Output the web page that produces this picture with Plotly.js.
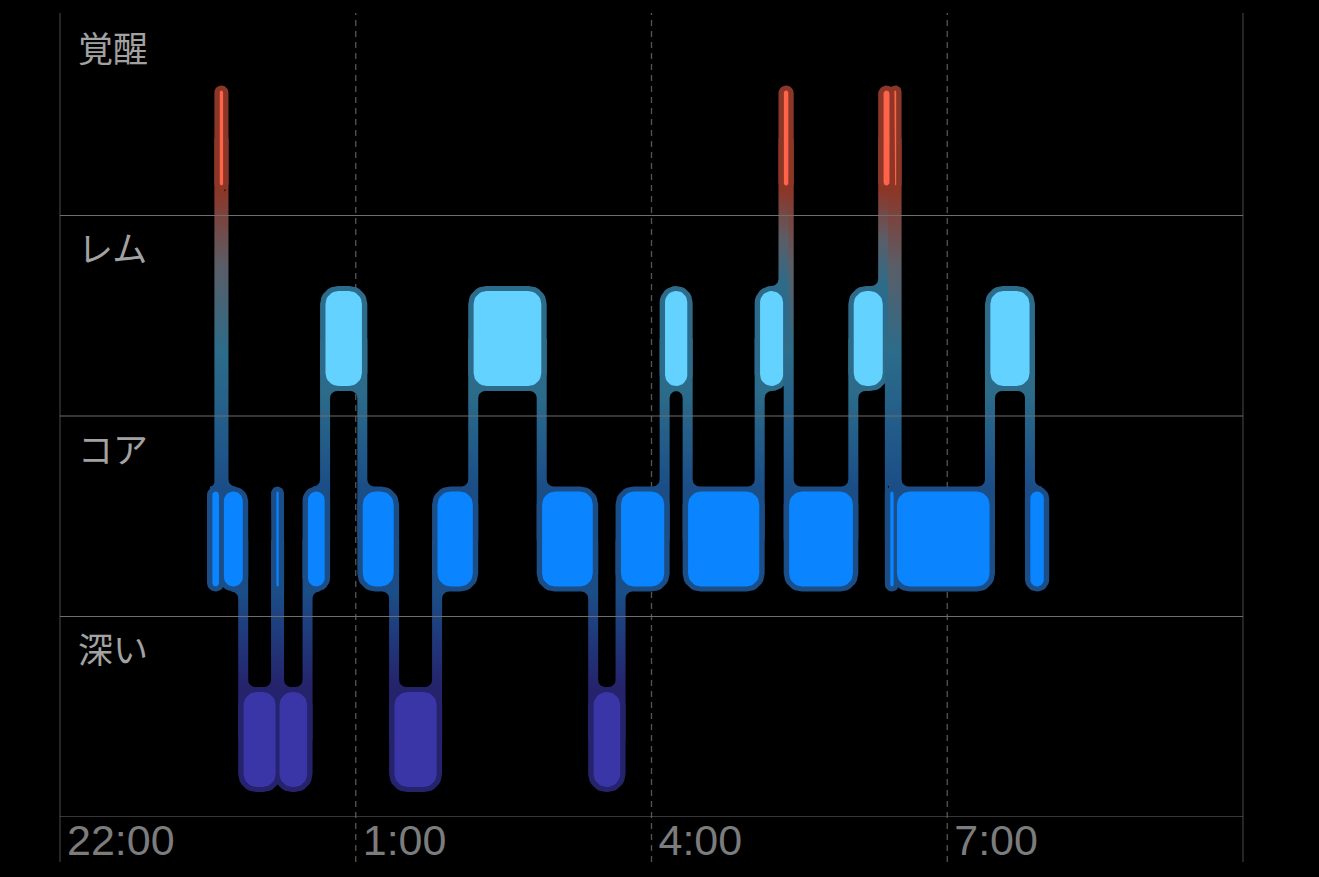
<!DOCTYPE html>
<html><head><meta charset="utf-8">
<script src="https://cdn.plot.ly/plotly-3.0.1.min.js"></script>
<style>html,body{margin:0;padding:0;background:#000;}#chart{width:1319px;height:877px;}</style>
</head><body><div id="chart"></div>
<script>
// ---------- data ----------
const laneLabels = ['深い', 'コア', 'レム', '覚醒'];           // bottom -> top
const segStage = ['コア','覚醒','コア','深い','コア','深い','コア','レム','コア','深い','コア','レム','コア','深い','コア','レム','コア','レム','覚醒','コア','レム','覚醒','コア','覚醒','コア','レム','コア'];
const segStart = ['23:32:30','23:37:00','23:39:30','23:51:30','0:11:30','0:13:20','0:30:40','0:41:20','1:04:00','1:23:20','1:49:30','2:11:30','2:53:10','3:24:30','3:41:10','4:08:00','4:22:00','5:05:50','5:20:20','5:23:30','6:02:50','6:21:00','6:25:05','6:27:35','6:29:10','7:26:00','7:50:20'];
const segEnd   = ['23:37:00','23:39:30','23:51:30','0:11:30','0:13:20','0:30:40','0:41:20','1:04:00','1:23:20','1:49:30','2:11:30','2:53:10','3:24:30','3:41:10','4:08:00','4:22:00','5:05:50','5:20:20','5:23:30','6:02:50','6:21:00','6:25:05','6:27:35','6:29:10','7:26:00','7:50:20','7:59:00'];
const tickLabels = ['22:00', '1:00', '4:00', '7:00'];
const axisStart = '22:00', axisEnd = '10:00';

// ---------- style ----------
const innerColor = {'深い':'#3a36a8','コア':'#0a84ff','レム':'#64d2ff','覚醒':'#ff6349'};
const haloColor  = {'深い':'#25236c','コア':'#1b4e87','レム':'#2c6c8a','覚醒':'#8c3628'};
const gradScales = {
  '0-1': [[0,'#25236c'],[1,'#1b4e87']],
  '1-2': [[0,'#1b4e87'],[1,'#2c6c8a']],
  '2-3': [[0,'#2c6c8a'],[0.5,'#5b5d66'],[1,'#8c3628']],
  '1-3': [[0,'#1b4e87'],[0.45,'#2c6c8a'],[0.75,'#5b5d66'],[1,'#8c3628']]
};
const W = 1319, H = 877, M = {l:60, r:76, t:15, b:60};
const plotW = W - M.l - M.r, plotH = H - M.t - M.b;

function hrs(t){ const p = t.split(':').map(Number); let v = p[0] + p[1]/60 + (p[2]||0)/3600; if (v < 12) v += 24; return v - 22; }
const x0 = hrs(axisStart), x1 = hrs(axisEnd);
const pxX = plotW / (x1 - x0), pxY = plotH / laneLabels.length;
const dx = p => p / pxX, dy = p => p / pxY;

const IN_LO = 30, IN_HI = 125, HALO = 5, R_IN = 13, R_OUT = 18, CW = 5, F = 7, MID = 77;

const lv = segStage.map(s => laneLabels.indexOf(s));
const xs = segStart.map(hrs), xe = segEnd.map(hrs);
const n = segStage.length;

function poly(g, pts){ pts.forEach(p => { g.x.push(p[0]); g.y.push(p[1]); }); g.x.push(null); g.y.push(null); }
function rrect(a, b, c, d, r){
  const wpx = (b - a) * pxX, hpx = (d - c) * pxY;
  r = Math.min(r, wpx / 2, hpx / 2);
  const rx = dx(r), ry = dy(r), pts = [];
  const cs = [[b-rx, d-ry, 0], [a+rx, d-ry, 90], [a+rx, c+ry, 180], [b-rx, c+ry, 270]];
  cs.forEach(([cx, cy, a0]) => { for (let k = 0; k <= 8; k++){ const an = (a0 + k*90/8) * Math.PI/180; pts.push([cx + rx*Math.cos(an), cy + ry*Math.sin(an)]); } });
  return pts;
}

const halo = {}, inner = {};
laneLabels.forEach(s => { halo[s] = {x:[], y:[]}; inner[s] = {x:[], y:[]}; });
for (let i = 0; i < n; i++){
  const s = segStage[i], L = lv[i];
  poly(halo[s], rrect(xs[i] - dx(HALO), xe[i] + dx(HALO), L + dy(IN_LO - HALO), L + dy(IN_HI + HALO), R_OUT));
  poly(inner[s], rrect(xs[i] + dx(0.4), xe[i] - dx(0.4), L + dy(IN_LO), L + dy(IN_HI), R_IN));
}

function fillet(g, ex, yJ, dir, s, f){
  if (f < 0.5) return;
  const pts = [[ex, yJ - dir*dy(R_OUT)], [ex + s*dx(f), yJ - dir*dy(R_OUT)], [ex + s*dx(f), yJ]];
  const cx = ex + s*dx(f), cy = yJ + dir*dy(f);
  for (let k = 0; k <= 8; k++){ const p = k/8*Math.PI/2; pts.push([cx - s*dx(f)*Math.sin(p), cy - dir*dy(f)*Math.cos(p)]); }
  poly(g, pts);
}

const groups = {};
for (let i = 0; i < n - 1; i++){
  const a = lv[i], b = lv[i+1]; if (a === b) continue;
  const bx = xe[i], Lu = Math.max(a, b), Ll = Math.min(a, b), upperLeft = a > b;
  const key = Ll + '-' + Lu;
  const g = groups[key] || (groups[key] = {x:[], y:[], Ll, Lu});
  const yU = Lu + dy(IN_LO - HALO), yL = Ll + dy(IN_HI + HALO);
  const hw = dx(CW);
  poly(g, [[bx-hw, Ll + dy(MID)], [bx+hw, Ll + dy(MID)], [bx+hw, Lu + dy(MID)], [bx-hw, Lu + dy(MID)]]);
  const sU = upperLeft ? -1 : 1, sL = -sU;
  const spanU = (upperLeft ? xe[i]-xs[i] : xe[i+1]-xs[i+1]) * pxX;
  const spanL = (upperLeft ? xe[i+1]-xs[i+1] : xe[i]-xs[i]) * pxX;
  fillet(g, bx + sU*hw, yU, -1, sU, Math.min(F, Math.max(0, spanU - 3)));
  fillet(g, bx + sL*hw, yL, 1, sL, Math.min(F, Math.max(0, spanL - 3)));
}

const traces = [];
laneLabels.forEach(s => traces.push({type:'scatter', mode:'lines', x:halo[s].x, y:halo[s].y, fill:'toself', fillcolor:haloColor[s], line:{width:0}, hoverinfo:'skip', showlegend:false}));
Object.keys(groups).forEach(k => {
  const g = groups[k];
  traces.push({type:'scatter', mode:'lines', x:g.x, y:g.y, fill:'toself', line:{width:0}, hoverinfo:'skip', showlegend:false,
    fillgradient:{type:'vertical', colorscale:gradScales[k], start:g.Ll + dy(IN_HI + HALO), stop:g.Lu + dy(IN_LO - HALO)}});
});
laneLabels.forEach(s => traces.push({type:'scatter', mode:'lines', x:inner[s].x, y:inner[s].y, fill:'toself', fillcolor:innerColor[s], line:{width:0}, hoverinfo:'skip', showlegend:false}));

const tickVals = tickLabels.map(hrs);
const shapes = [];
tickVals.forEach(v => { if (v > x0) shapes.push({type:'line', xref:'x', yref:'paper', x0:v, x1:v, y0:-45/plotH, y1:1 + 2/plotH, layer:'below', line:{color:'#555555', width:1.3, dash:'6px,5px'}}); });
[0, 1].forEach(p => shapes.push({type:'line', xref:'paper', yref:'paper', x0:p, x1:p, y0:-45/plotH, y1:1 + 2/plotH, layer:'below', line:{color:'#4a4a4a', width:1}}));
for (let k = 0; k < laneLabels.length; k++) shapes.push({type:'line', xref:'paper', yref:'y', x0:0, x1:1, y0:k, y1:k, layer:'above', line:{color:'#6e6e6e', width:1.2}});

const annotations = laneLabels.map((s, k) => ({xref:'paper', yref:'y', x:0, y:k + 1, xanchor:'left', yanchor:'middle', xshift:16, yshift:-31, text:s, showarrow:false, font:{family:'Noto Sans CJK JP', size:35, color:'#a2a2a2'}}));

const layout = {
  width:W, height:H, margin:{l:M.l, r:M.r, t:M.t, b:M.b, pad:0},
  paper_bgcolor:'#000', plot_bgcolor:'#000', showlegend:false,
  xaxis:{range:[x0, x1], tickvals:tickVals, ticktext:tickLabels, showgrid:false, zeroline:false, showline:false, ticks:'', ticklabelposition:'outside right', ticklabelshift:7, ticklabelstandoff:-6, tickfont:{family:'Liberation Sans', size:43, color:'#7c7c7c'}, fixedrange:true},
  yaxis:{range:[0, laneLabels.length], showgrid:false, zeroline:false, showticklabels:false, fixedrange:true},
  shapes, annotations
};
Plotly.newPlot('chart', traces, layout, {displayModeBar:false, staticPlot:true});
</script></body></html>
